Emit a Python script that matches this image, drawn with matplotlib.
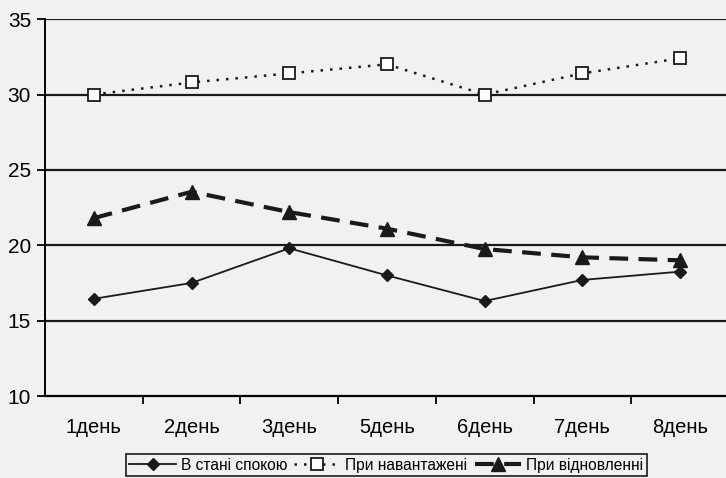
import matplotlib.pyplot as plt
import numpy as np

days = ['1день', '2день', '3день', '5день', '6день', '7день', '8день']
rest = [16.45, 17.5, 19.8, 18.0, 16.3, 17.7, 18.25]
load = [30.0, 30.8, 31.4, 32.0, 30.0, 31.4, 32.4]
recovery = [21.8, 23.55, 22.2, 21.1, 19.75, 19.2, 19.0]

plt.rcParams['font.family'] = ['Liberation Sans Narrow', 'Liberation Sans', 'DejaVu Sans']

fig = plt.figure(figsize=(7.26, 4.78), dpi=100, facecolor='#f1f1f1')
ax = fig.add_axes([0.062, 0.1715, 0.942, 0.7885])
ax.set_facecolor('#f1f1f1')

x = np.arange(len(days))
ax.plot(x, rest, '-', color='#1a1a1a', lw=1.3, marker='D', ms=6,
        mfc='#1a1a1a', label='В стані спокою', zorder=4)
ax.plot(x, load, color='#1a1a1a', lw=1.8, dashes=(1, 2.8), marker='s', ms=8,
        mfc='white', mec='#1a1a1a', mew=1.3, label='При навантажені', zorder=4)
ax.plot(x, recovery, color='#1a1a1a', lw=3, dashes=(4.5, 2.5), marker='^', ms=10,
        mfc='#1a1a1a', label='При відновленні', zorder=4)

ax.set_ylim(10, 35)
ax.set_xlim(-0.5, 6.5)
ax.set_yticks([10, 15, 20, 25, 30, 35])
for v in [15, 20, 25, 30, 35]:
    ax.axhline(v, color='#1a1a1a', lw=1.6, zorder=1)

ax.set_xticks(x)
ax.set_xticklabels(days)
ax.set_xticks(np.arange(0.5, 6, 1), minor=True)
ax.tick_params(axis='x', which='major', length=0, pad=16, labelsize=14.5)
ax.tick_params(axis='x', which='minor', length=6, width=1.3, direction='out')
ax.tick_params(axis='y', length=6, width=1.3, labelsize=15, pad=4)

for s in ['top', 'right']:
    ax.spines[s].set_visible(False)
ax.spines['left'].set_linewidth(1.4)
ax.spines['bottom'].set_linewidth(1.6)

leg = fig.legend(loc='center', bbox_to_anchor=(0.532, 0.027), ncol=3, fontsize=11.2,
                 frameon=True, fancybox=False, edgecolor='#1a1a1a', facecolor='#f1f1f1',
                 handlelength=3.0, columnspacing=0.45, handletextpad=0.3,
                 borderpad=0.25, framealpha=1)
leg.get_frame().set_linewidth(1.2)

fig.savefig('out.png', dpi=100, facecolor=fig.get_facecolor())
